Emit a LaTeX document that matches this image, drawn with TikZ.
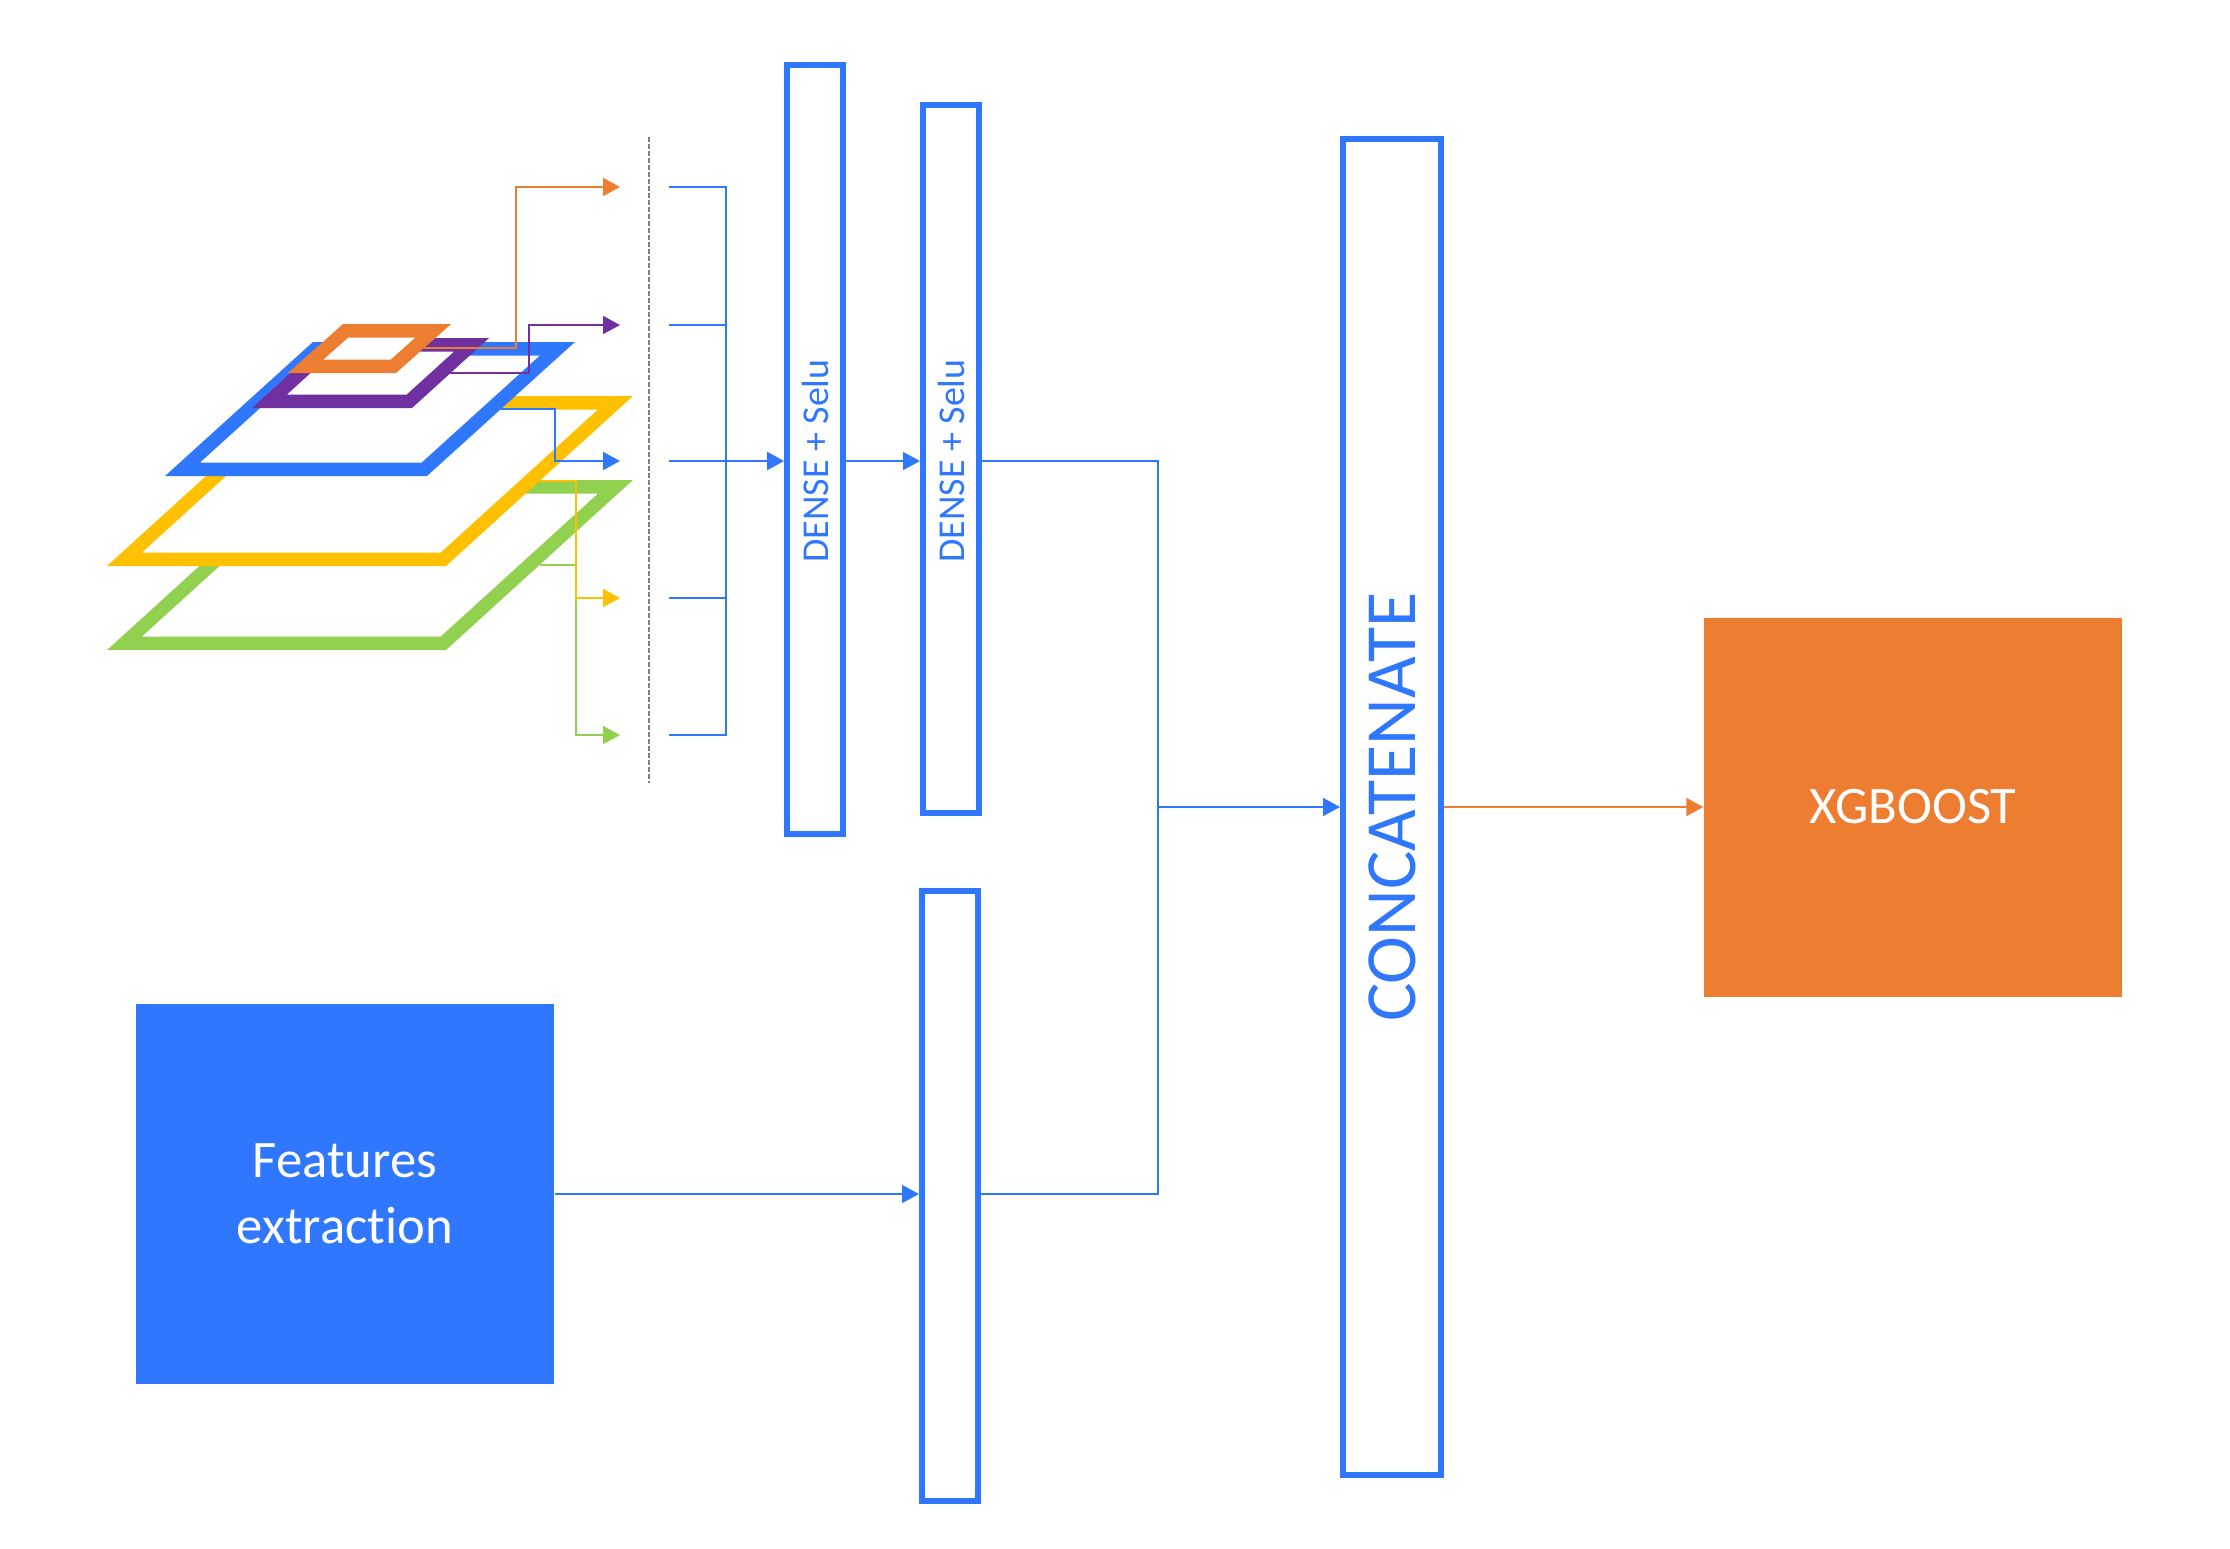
\documentclass[tikz,border=0pt]{standalone}
\usepackage{fontspec}
\setmainfont{Carlito}[Ligatures={NoCommon,NoContextual}]
\usetikzlibrary{arrows.meta}
\definecolor{myblue}{RGB}{48,119,255}
\definecolor{myorange}{RGB}{237,125,49}
\definecolor{mypurple}{RGB}{112,48,160}
\definecolor{myyellow}{RGB}{255,192,0}
\definecolor{mygreen}{RGB}{146,208,80}
\tikzset{
    layer/.style={line width=1.35mm, line join=miter, fill=white},
    plain/.style={line width=0.18mm},
    link/.style={plain, -{Triangle[length=1.7mm,width=1.8mm]}},
    dense/.style={draw=myblue, line width=0.57mm, minimum width=5.63mm, inner sep=0pt},
    densetext/.style={rotate=90, text=myblue, font=\fontsize{10.8}{12}\selectfont},
    block/.style={minimum width=41.8mm, minimum height=38mm, text=white, align=center,
        font=\fontsize{15}{18.8}\selectfont},
}
\begin{document}
\begin{tikzpicture}[x=0.1mm, y=-0.1mm]
    \useasboundingbox (0,0) rectangle (2230,1548);
    \filldraw[layer, draw=mygreen] (124.5,643.25) -- (443.4,643.25) -- (615.5,486.75) -- (296.6,486.75) -- cycle;
    \filldraw[layer, draw=myyellow] (124.5,559.25) -- (443.4,559.25) -- (615.5,402.75) -- (296.6,402.75) -- cycle;
    \filldraw[layer, draw=myblue] (182.5,469.25) -- (424.4,469.25) -- (557.4,348.75) -- (315.5,348.75) -- cycle;
    \filldraw[layer, draw=mypurple] (269.5,401.25) -- (409.4,401.25) -- (471.6,344.75) -- (331.6,344.75) -- cycle;
    \filldraw[layer, draw=myorange] (305.7,366.25) -- (393.4,366.25) -- (433.3,330.75) -- (345.6,330.75) -- cycle;
    \foreach \n/\x/\y in {g/540/565, y/540/481, b/501/409, p/450/373, o/424/348}
        \coordinate (\n-src) at (\x,\y);
    \foreach \n/\y in {o/187, p/325, b/461, y/598, g/735} {
        \coordinate (\n-end) at (620,\y);
        \coordinate (\n-in) at (669,\y);
    }
    \draw[link, mygreen] (g-src) -- ++(36,0) |- (g-end);
    \draw[link, myyellow] (y-src) -- ++(36,0) |- (y-end);
    \draw[link, myblue] (b-src) -- ++(54,0) |- (b-end);
    \draw[link, mypurple] (p-src) -- ++(79,0) |- (p-end);
    \draw[link, myorange] (o-src) -- ++(92,0) |- (o-end);
    \draw[gray, line width=0.22mm, dash pattern=on 0.45mm off 0.25mm] (649,137) -- (649,783);
    \coordinate (fork) at (726,461);
    \foreach \n in {o,p,b,y,g}
        \draw[plain, myblue] (\n-in) -| (fork);
    \node[dense, minimum height=76.93mm] (d1) at (815,449.5) {};
    \node[dense, minimum height=70.83mm] (d2) at (951,459) {};
    \node[dense, minimum height=61.03mm] (d3) at (950,1196) {};
    \node[densetext] (l1) at (d1 |- fork) {DENSE + Selu};
    \node[densetext] (l2) at (d2 |- fork) {DENSE + Selu};
    \node[draw=myblue, line width=0.6mm, minimum width=9.8mm, minimum height=133.6mm, inner sep=0pt,
        text=myblue, font=\fontsize{20.5}{24}\selectfont] (cc) at (1392,807) {\rotatebox{90}{CONCATENATE}};
    \node[block, fill=myblue] (feat) at (345,1194) {Features\\extraction};
    \node[block, fill=myorange, minimum height=37.9mm] (xgb) at (1913,807) {XGBOOST};
    \coordinate (merge) at (1158,807);
    \draw[link, myblue, line width=0.28mm] (fork) -- (d1.west |- fork);
    \draw[link, myblue] (d1.east |- fork) -- (d2.west |- fork);
    \draw[link, myblue] (d2.east |- fork) -| (merge) -- (cc.west);
    \draw[link, myblue] (feat.east) -- (d3.west |- feat.east);
    \draw[plain, myblue] (d3.east |- feat.east) -| (merge);
    \draw[link, myorange] (cc.east) -- (xgb.west);
\end{tikzpicture}
\end{document}
